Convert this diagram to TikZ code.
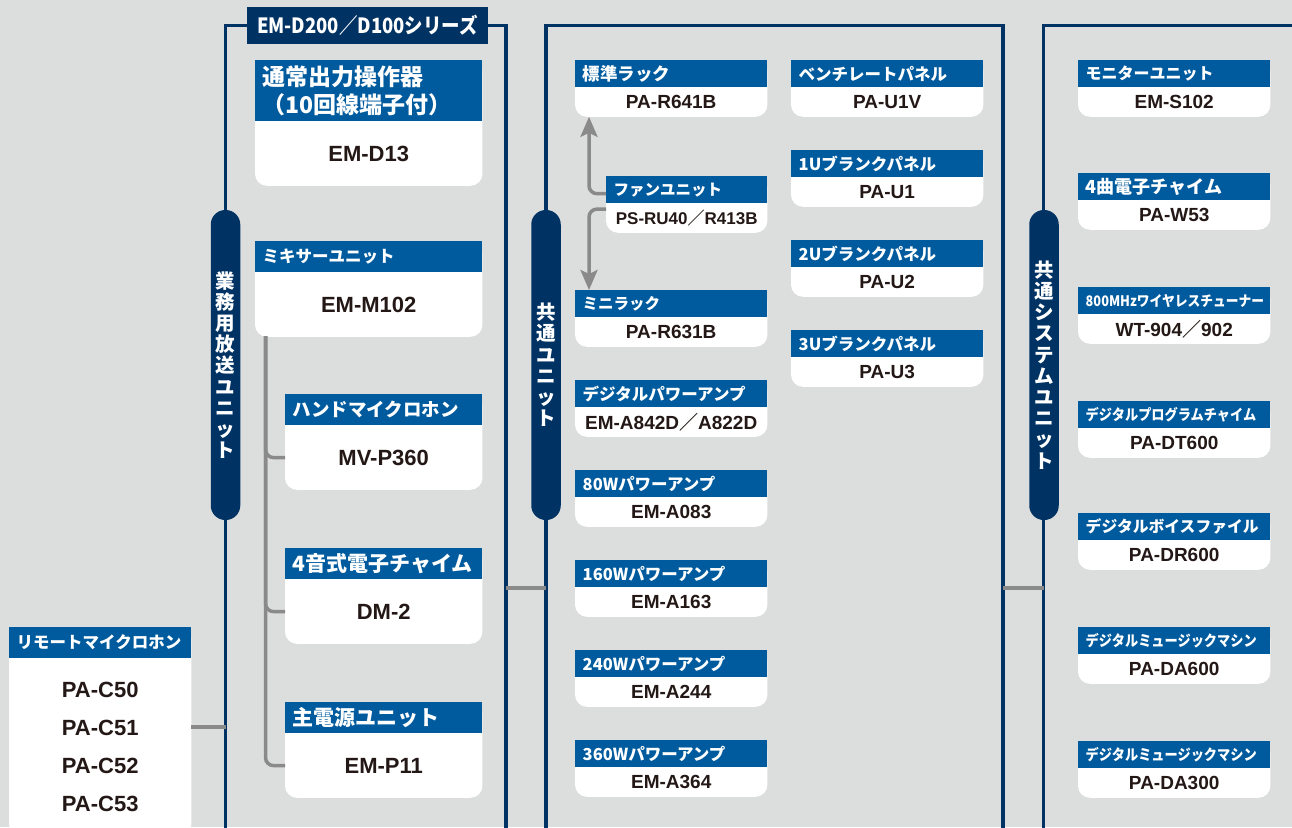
\documentclass[tikz,border=0pt]{standalone}
\usepackage{fontspec}
\newfontfamily\jp{Noto Sans CJK JP}
\newfontfamily\modelfont{Liberation Sans}
\usetikzlibrary{arrows.meta}
\definecolor{bggray}{RGB}{220,221,221}
\definecolor{navy}{RGB}{0,51,99}
\definecolor{hblue}{RGB}{0,91,158}
\definecolor{linkgray}{RGB}{138,138,138}
\definecolor{ink}{RGB}{35,24,21}
\pgfdeclarelayer{back}
\pgfdeclarelayer{cards}
\pgfsetlayers{back,cards,main}
\newcommand\narrowjp{\jp\bfseries\addfontfeature{FakeStretch=0.88}}
% card = blue header + white body with round bottom corners
\newcommand\unitcard[9][]{%
  \node[head,minimum width=#5pt,text width=\dimexpr#5pt-15pt\relax,minimum height=#6pt,#1] (#2-h) at (#3,#4) {#8};
  \node[body,minimum width=#5pt,minimum height=#7pt] (#2) at (#2-h.south) {#9};
  \begin{pgfonlayer}{cards}
    \fill[white,rounded corners=12pt] (#2-h.north west) rectangle (#2.south east);
  \end{pgfonlayer}}
\begin{document}
\begin{tikzpicture}[x=1pt,y=-1pt,
  frame/.style={navy,line width=3.2pt},
  link/.style={linkgray,line width=3.5pt},
  flow/.style={linkgray,line width=3.5pt,rounded corners=8pt,-{Stealth[length=20pt,width=17pt,inset=4pt]}},
  head/.style={anchor=north west,fill=hblue,text=white,inner xsep=7.5pt,inner ysep=0pt,align=left,font=\jp\bfseries\fontsize{16.5}{19}\selectfont},
  body/.style={anchor=north,inner sep=0pt,text=ink,align=center,font=\modelfont\bfseries\fontsize{19}{23}\selectfont},
  title/.style={fill=navy,text=white,minimum width=241pt,minimum height=37pt,inner sep=0pt,font=\narrowjp\fontsize{21}{24}\selectfont},
  pill/.style={fill=navy,text=white,rounded corners=14.5pt,minimum width=29.5pt,minimum height=310pt,inner sep=0pt,align=center,font=\jp\bfseries\fontsize{19.5}{21.2}\selectfont}]
\useasboundingbox (0,0) rectangle (1292,827);
\begin{pgfonlayer}{back}
  \fill[bggray] (0,0) rectangle (1292,827);
\end{pgfonlayer}

\node[title] (series) at (367.5,25.5) {EM-D200／D100シリーズ};
\draw[frame] (225.5,830) |- (series.west);
\draw[frame] (series.east) -| (506,830);
\draw[frame] (546,830) |- (1003,25.5) -- (1003,830);
\draw[frame] (1043.5,830) |- (1295,25.5);

\coordinate (lfa) at (225.5,727);
\coordinate (lfb) at (506,588);
\coordinate (mfa) at (546,588);
\coordinate (mfb) at (1003,588);
\coordinate (rfa) at (1043.5,588);
\draw[link] (lfb) -- (mfa);
\draw[link] (mfb) -- (rfa);

\node[pill] (gyomu) at (225.5,365) {業\\務\\用\\放\\送\\ユ\\ニ\\ッ\\ト};
\node[pill] (kyotsu) at (546,365) {共\\通\\ユ\\ニ\\ッ\\ト};
\node[pill] (system) at (1044,365) {共\\通\\シ\\ス\\テ\\ム\\ユ\\ニ\\ッ\\ト};

\begin{scope}[body/.append style={font=\modelfont\bfseries\fontsize{22}{38}\selectfont}]
\unitcard[font=\jp\bfseries\fontsize{23}{28}\selectfont]{ctrl}{255}{60}{227}{61}{64}{通常出力操作器\\（10回線端子付）}{EM-D13}
\unitcard[font=\jp\bfseries\fontsize{16.5}{19}\selectfont]{mixer}{255}{241}{227}{31}{64}{ミキサーユニット}{EM-M102}
\unitcard[font=\jp\bfseries\fontsize{18.5}{22}\selectfont]{mic}{285}{394}{197}{31}{64}{ハンドマイクロホン}{MV-P360}
\unitcard[font=\jp\bfseries\fontsize{21}{24}\selectfont]{chime}{285}{548}{197}{31}{64}{4音式電子チャイム}{DM-2}
\unitcard[font=\jp\bfseries\fontsize{21}{24}\selectfont]{power}{285}{702}{197}{31}{64}{主電源ユニット}{EM-P11}
\unitcard{remote}{9}{627}{182}{31}{177}{リモートマイクロホン}{PA-C50\\PA-C51\\PA-C52\\PA-C53}
\end{scope}
\coordinate (trunk) at (265.5,336);
\draw[link,rounded corners=8pt] (trunk) |- (mic.west);
\draw[link,rounded corners=8pt] (trunk) |- (chime.west);
\draw[link,rounded corners=8pt] (trunk) |- (power.west);
\draw[link] (remote.east |- lfa) -- (lfa);

\unitcard[font=\jp\bfseries\fontsize{17.5}{20}\selectfont]{std}{575}{60}{192}{27}{29}{標準ラック}{PA-R641B}
\unitcard[font=\jp\bfseries\fontsize{15.5}{19}\selectfont]{fan}{606}{176}{161}{27}{29}{ファンユニット}{\fontsize{17}{20}\selectfont PS-RU40{\jp ／}R413B}
\unitcard[font=\jp\bfseries\fontsize{15.5}{19}\selectfont]{mini}{575}{290}{192}{27}{29}{ミニラック}{PA-R631B}
\unitcard{dpa}{575}{380}{192}{27}{29}{デジタルパワーアンプ}{EM-A842D{\jp ／}A822D}
\unitcard{a80}{575}{470}{192}{27}{29}{80Wパワーアンプ}{EM-A083}
\unitcard{a160}{575}{560}{192}{27}{29}{160Wパワーアンプ}{EM-A163}
\unitcard{a240}{575}{650}{192}{27}{29}{240Wパワーアンプ}{EM-A244}
\unitcard{a360}{575}{740}{192}{27}{29}{360Wパワーアンプ}{EM-A364}
\draw[flow] ([yshift=-4pt]fan-h.west) -| ([xshift=14pt]std.south west);
\draw[flow] ([yshift=9pt]fan.west) -| ([xshift=14pt]mini-h.north west);

\unitcard{vent}{791}{60}{192}{27}{29}{ベンチレートパネル}{PA-U1V}
\unitcard{u1}{791}{150}{192}{27}{29}{1Uブランクパネル}{PA-U1}
\unitcard{u2}{791}{240}{192}{27}{29}{2Uブランクパネル}{PA-U2}
\unitcard{u3}{791}{330}{192}{27}{29}{3Uブランクパネル}{PA-U3}

\unitcard[font=\jp\bfseries\fontsize{16}{19}\selectfont]{mon}{1078}{60}{192}{27}{29}{モニターユニット}{EM-S102}
\unitcard[font=\jp\bfseries\fontsize{18}{21}\selectfont]{w53}{1078}{173}{192}{27}{29}{4曲電子チャイム}{PA-W53}
\unitcard[font=\narrowjp\fontsize{14.5}{17}\selectfont]{wt}{1078}{287}{192}{27}{29}{800MHzワイヤレスチューナー}{WT-904{\jp ／}902}
\unitcard[font=\narrowjp\fontsize{15}{17}\selectfont]{dt}{1078}{401}{192}{27}{29}{デジタルプログラムチャイム}{PA-DT600}
\unitcard[font=\jp\bfseries\fontsize{15.8}{19}\selectfont]{dr}{1078}{513}{192}{27}{29}{デジタルボイスファイル}{PA-DR600}
\unitcard[font=\narrowjp\fontsize{15}{17}\selectfont]{da6}{1078}{627}{192}{27}{29}{デジタルミュージックマシン}{PA-DA600}
\unitcard[font=\narrowjp\fontsize{15}{17}\selectfont]{da3}{1078}{741}{192}{27}{29}{デジタルミュージックマシン}{PA-DA300}
\end{tikzpicture}
\end{document}
